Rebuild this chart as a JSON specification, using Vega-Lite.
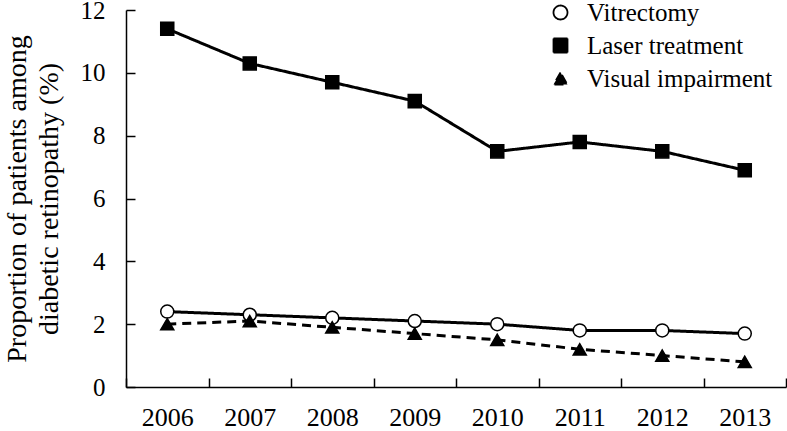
{
  "$schema": "https://vega.github.io/schema/vega-lite/v6.json",
  "width": 660,
  "height": 377,
  "autosize": {"type": "none"},
  "padding": {"left": 126, "top": 10, "right": 1, "bottom": 44},
  "background": "white",
  "config": {
    "view": {"stroke": null},
    "font": "Liberation Serif",
    "axis": {
      "domainColor": "black", "tickColor": "black", "labelColor": "black", "titleColor": "black",
      "grid": false, "domainWidth": 1.5, "tickWidth": 1.5,
      "labelFont": "Liberation Serif", "titleFont": "Liberation Serif", "titleFontWeight": "normal"
    },
    "legend": {
      "title": null, "orient": "none", "legendX": 422, "legendY": -10, "padding": 0,
      "labelFont": "Liberation Serif", "labelFontSize": 25, "labelColor": "black", "labelLimit": 0,
      "symbolSize": 196, "labelOffset": 14, "rowPadding": 7,
      "symbolStrokeColor": "black", "symbolStrokeWidth": 1.8
    }
  },
  "data": {"values": [
    {"year": "2006", "series": "Vitrectomy", "value": 2.4},
    {"year": "2007", "series": "Vitrectomy", "value": 2.3},
    {"year": "2008", "series": "Vitrectomy", "value": 2.2},
    {"year": "2009", "series": "Vitrectomy", "value": 2.1},
    {"year": "2010", "series": "Vitrectomy", "value": 2.0},
    {"year": "2011", "series": "Vitrectomy", "value": 1.8},
    {"year": "2012", "series": "Vitrectomy", "value": 1.8},
    {"year": "2013", "series": "Vitrectomy", "value": 1.7},
    {"year": "2006", "series": "Laser treatment", "value": 11.4},
    {"year": "2007", "series": "Laser treatment", "value": 10.3},
    {"year": "2008", "series": "Laser treatment", "value": 9.7},
    {"year": "2009", "series": "Laser treatment", "value": 9.1},
    {"year": "2010", "series": "Laser treatment", "value": 7.5},
    {"year": "2011", "series": "Laser treatment", "value": 7.8},
    {"year": "2012", "series": "Laser treatment", "value": 7.5},
    {"year": "2013", "series": "Laser treatment", "value": 6.9},
    {"year": "2006", "series": "Visual impairment", "value": 2.0},
    {"year": "2007", "series": "Visual impairment", "value": 2.1},
    {"year": "2008", "series": "Visual impairment", "value": 1.9},
    {"year": "2009", "series": "Visual impairment", "value": 1.7},
    {"year": "2010", "series": "Visual impairment", "value": 1.5},
    {"year": "2011", "series": "Visual impairment", "value": 1.2},
    {"year": "2012", "series": "Visual impairment", "value": 1.0},
    {"year": "2013", "series": "Visual impairment", "value": 0.8}
  ]},
  "encoding": {
    "x": {
      "field": "year", "type": "ordinal",
      "scale": {"type": "band", "paddingInner": 0, "paddingOuter": 0},
      "axis": {"title": null, "labelAngle": 0, "tickBand": "extent", "tickSize": -9, "labelPadding": 26, "labelFontSize": 26}
    },
    "y": {
      "field": "value", "type": "quantitative",
      "scale": {"domain": [0, 12]},
      "axis": {
        "values": [0, 2, 4, 6, 8, 10, 12], "tickSize": -9, "labelPadding": 30, "labelFontSize": 25,
        "title": ["Proportion of patients among", "diabetic retinopathy (%)"],
        "titleFontSize": 28, "titleLineHeight": 32, "titlePadding": 17
      }
    }
  },
  "layer": [
    {
      "mark": {"type": "line", "color": "black", "strokeWidth": 3},
      "encoding": {
        "detail": {"field": "series"},
        "strokeDash": {
          "field": "series", "type": "nominal",
          "scale": {"domain": ["Vitrectomy", "Laser treatment", "Visual impairment"], "range": [[1, 0], [1, 0], [9, 6]]},
          "legend": {
            "encode": {"symbols": {"update": {
              "fill": {"signal": "datum.value === 'Vitrectomy' ? 'white' : 'black'"},
              "stroke": {"value": "black"},
              "strokeWidth": {"value": 1.8},
              "strokeDash": {"value": [1, 0]},
              "opacity": {"value": 1}
            }}}
          }
        }
      }
    },
    {
      "mark": {"type": "point", "filled": true, "size": 170, "stroke": "black", "strokeWidth": 1.5, "opacity": 1},
      "encoding": {
        "shape": {
          "field": "series", "type": "nominal",
          "scale": {"domain": ["Vitrectomy", "Laser treatment", "Visual impairment"], "range": ["circle", "square", "triangle-up"]},
          "legend": {
            "encode": {"symbols": {"update": {
              "fill": {"signal": "datum.value === 'Vitrectomy' ? 'white' : 'black'"},
              "stroke": {"value": "black"},
              "strokeWidth": {"value": 1.8},
              "strokeDash": {"value": [1, 0]},
              "opacity": {"value": 1}
            }}}
          }
        },
        "fill": {
          "field": "series", "type": "nominal",
          "scale": {"domain": ["Vitrectomy", "Laser treatment", "Visual impairment"], "range": ["white", "black", "black"]},
          "legend": {
            "encode": {"symbols": {"update": {
              "fill": {"signal": "datum.value === 'Vitrectomy' ? 'white' : 'black'"},
              "stroke": {"value": "black"},
              "strokeWidth": {"value": 1.8},
              "strokeDash": {"value": [1, 0]},
              "opacity": {"value": 1}
            }}}
          }
        }
      }
    }
  ]
}
